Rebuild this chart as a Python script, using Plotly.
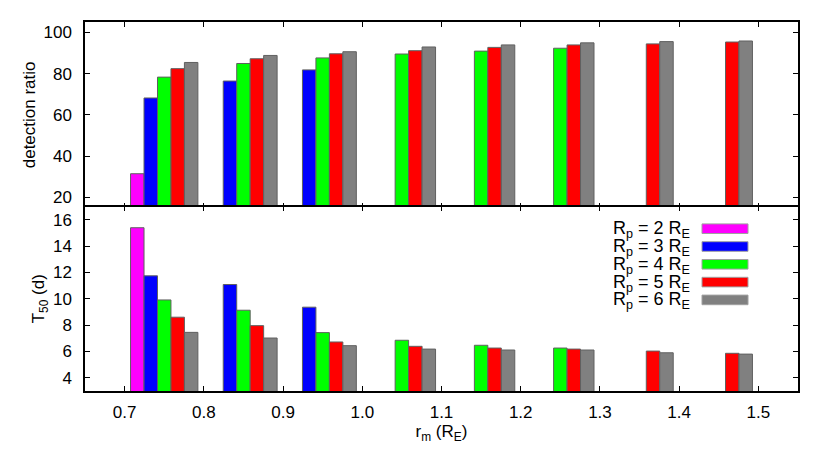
import plotly.graph_objects as go
from plotly.subplots import make_subplots

r_m = [0.75, 0.85, 0.95, 1.05, 1.15, 1.25, 1.35, 1.45]
series_names = ["R<sub>p</sub> = 2 R<sub>E</sub>", "R<sub>p</sub> = 3 R<sub>E</sub>",
                "R<sub>p</sub> = 4 R<sub>E</sub>", "R<sub>p</sub> = 5 R<sub>E</sub>",
                "R<sub>p</sub> = 6 R<sub>E</sub>"]
colors = ["#ff00ff", "#0000ff", "#00ff00", "#ff0000", "#808080"]

det_rp2 = [31.5, None, None, None, None, None, None, None]
det_rp3 = [68.2, 76.4, 81.8, None, None, None, None, None]
det_rp4 = [78.3, 84.9, 87.6, 89.5, 90.9, 92.3, None, None]
det_rp5 = [82.4, 87.2, 89.6, 91.1, 92.7, 93.9, 94.4, 95.3]
det_rp6 = [85.4, 88.8, 90.6, 92.9, 93.9, 94.9, 95.5, 95.8]

t50_rp2 = [15.39, None, None, None, None, None, None, None]
t50_rp3 = [11.74, 11.08, 9.36, None, None, None, None, None]
t50_rp4 = [9.91, 9.13, 7.43, 6.85, 6.47, 6.26, None, None]
t50_rp5 = [8.60, 7.96, 6.72, 6.39, 6.26, 6.18, 6.03, 5.86]
t50_rp6 = [7.45, 7.02, 6.44, 6.18, 6.11, 6.11, 5.90, 5.80]

x_ticks = [0.7, 0.8, 0.9, 1.0, 1.1, 1.2, 1.3, 1.4, 1.5]
x_tick_labels = ["0.7", "0.8", "0.9", "1.0", "1.1", "1.2", "1.3", "1.4", "1.5"]
det_ticks = [20, 40, 60, 80, 100]
t50_ticks = [4, 6, 8, 10, 12, 14, 16]

det_all = [det_rp2, det_rp3, det_rp4, det_rp5, det_rp6]
t50_all = [t50_rp2, t50_rp3, t50_rp4, t50_rp5, t50_rp6]

FONT = "Liberation Sans, Arial, sans-serif"
FS = 17

fig = make_subplots(rows=2, cols=1, shared_xaxes=True, vertical_spacing=0)

for name, col, d, t in zip(series_names, colors, det_all, t50_all):
    fig.add_trace(go.Bar(x=r_m, y=d, name=name, marker_color=col,
                         marker_line=dict(color="#606060", width=1),
                         showlegend=False), row=1, col=1)
    fig.add_trace(go.Bar(x=r_m, y=t, name=name, marker_color=col,
                         marker_line=dict(color="#606060", width=1),
                         showlegend=False), row=2, col=1)

axis_common = dict(showline=True, linecolor="black", linewidth=1.5, mirror="ticks",
                   ticks="inside", ticklen=5, tickwidth=1, tickcolor="black",
                   showgrid=False, zeroline=False,
                   tickfont=dict(family=FONT, size=FS, color="black"))

fig.update_xaxes(range=[0.65, 1.55], tickvals=x_ticks, ticktext=x_tick_labels, **axis_common)
fig.update_xaxes(showticklabels=False, row=1, col=1)
fig.update_xaxes(ticklabelstandoff=5, row=2, col=1,
                 title=dict(text="r<sub>m</sub> (R<sub>E</sub>)",
                            font=dict(family=FONT, size=FS, color="black"), standoff=3))
fig.update_yaxes(range=[15, 105], tickvals=det_ticks, row=1, col=1, ticklabelstandoff=8,
                 **axis_common,
                 title=dict(text="detection ratio", font=dict(family=FONT, size=FS, color="black"),
                            standoff=4))
fig.update_yaxes(range=[3, 17], tickvals=t50_ticks, row=2, col=1, ticklabelstandoff=8,
                 **axis_common,
                 title=dict(text="T<sub>50</sub> (d)", font=dict(family=FONT, size=FS, color="black"),
                            standoff=4))

# make the shared middle frame line coincide
fig.update_layout(yaxis=dict(domain=[0.4965, 1.0]), yaxis2=dict(domain=[0.0, 0.5]))

# custom legend (text right-aligned, swatch on the right) in bottom panel
plot_h = 460 - 22 - 69
plot_w = 830 - 85 - 32
def px_y(y):
    return (460 - 69 - y) / plot_h
def px_x(x):
    return (x - 85) / plot_w

legend_x_text = px_x(692)
sw_x0, sw_x1 = px_x(702), px_x(748)
first_y = 228.7
step = 17.8
half_h = 4.8
for i, (name, col) in enumerate(zip(series_names, colors)):
    yc = first_y + i * step
    fig.add_annotation(x=legend_x_text, y=px_y(yc + 1), xref="paper", yref="paper", text=name,
                       showarrow=False, xanchor="right", yanchor="middle",
                       font=dict(family=FONT, size=18, color="black"))
    fig.add_shape(type="rect", xref="paper", yref="paper", x0=sw_x0, x1=sw_x1,
                  y0=px_y(yc + half_h), y1=px_y(yc - half_h), fillcolor=col,
                  line=dict(color="#a0a0a0", width=1))

fig.update_layout(width=830, height=460, margin=dict(l=85, r=32, t=22, b=69),
                  barmode="group", bargap=0.15, bargroupgap=0,
                  plot_bgcolor="white", paper_bgcolor="white",
                  font=dict(family=FONT, size=FS, color="black"))

fig.write_html("out.html", config={"displayModeBar": False},
               post_script="document.body.style.margin='0px';")
